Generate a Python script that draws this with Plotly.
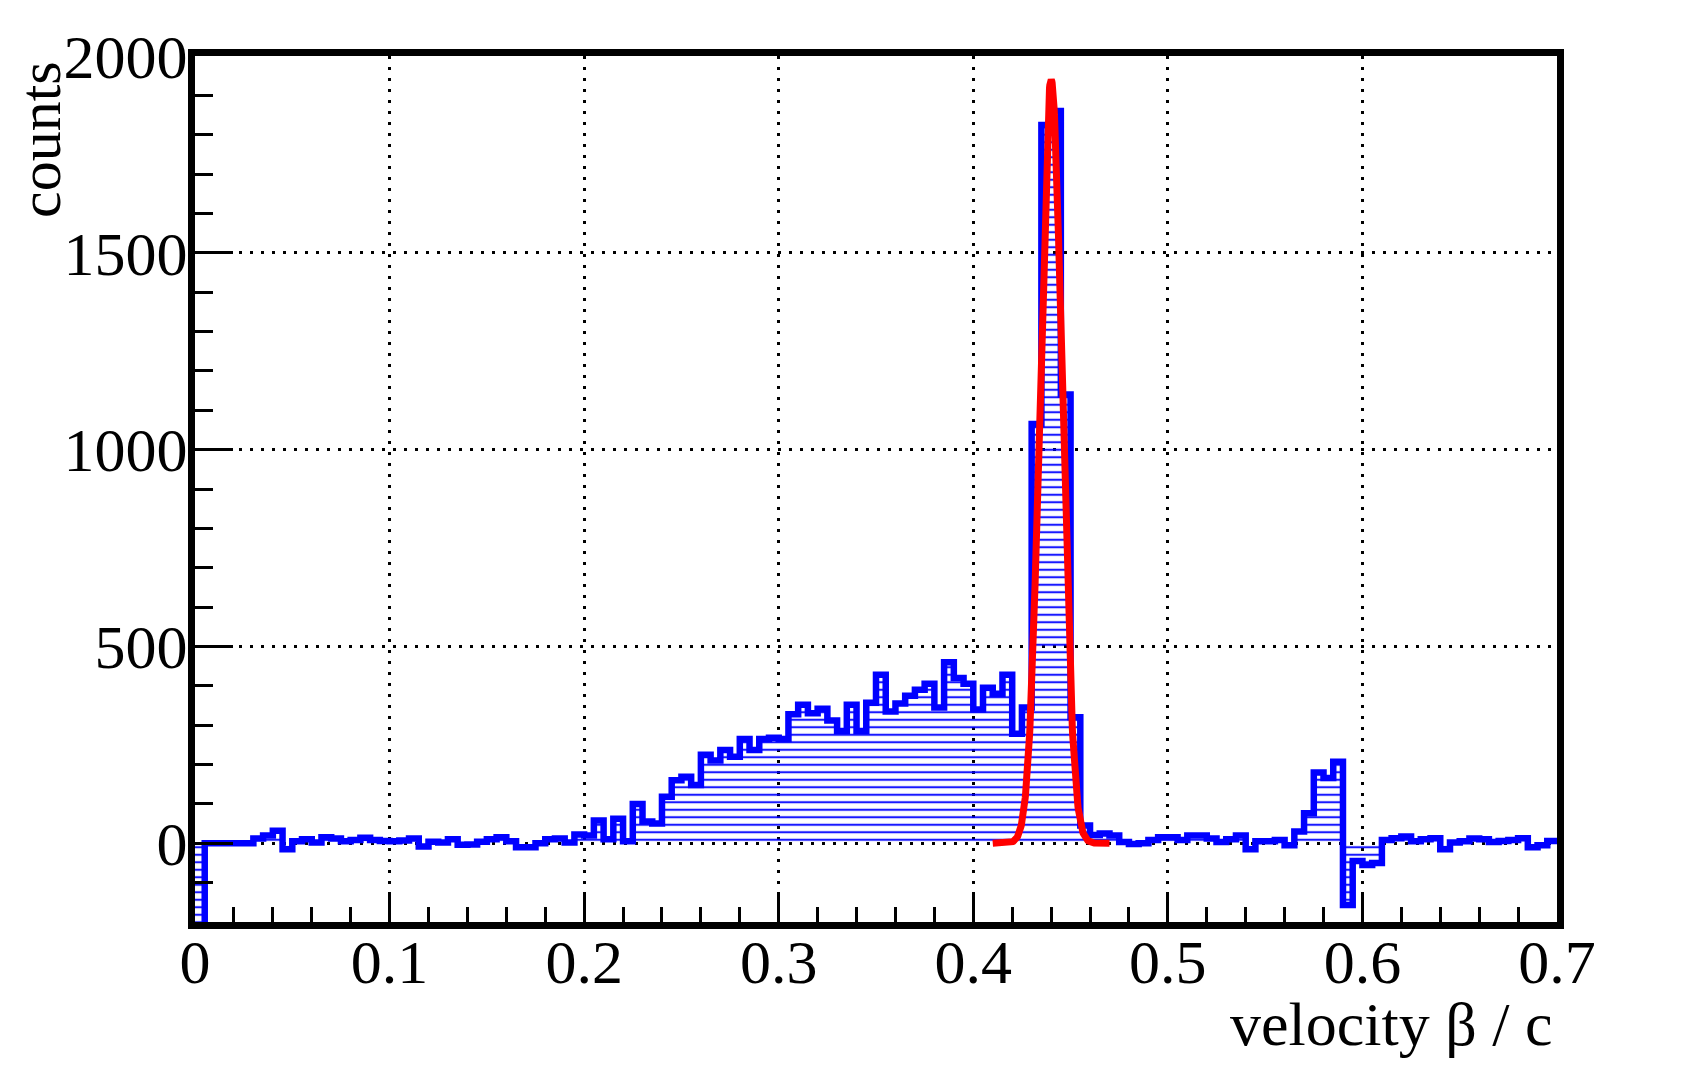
import numpy as np
import plotly.graph_objects as go

# ---------------- data ----------------
bin_width = 0.005
x_start = 0.0
counts = [
    -400, 0, 0, 0, 0, 0, 12, 20, 32, -15,
    5, 10, 2, 15, 12, 5, 8, 14, 8, 6,
    5, 7, 12, -8, 4, 2, 10, -4, -3, 4,
    10, 15, 5, -10, -10, 0, 10, 12, 2, 22,
    20, 58, 10, 62, 5, 100, 55, 50, 118, 160,
    169, 148, 225, 210, 237, 220, 265, 237, 265, 268,
    265, 328, 352, 330, 342, 312, 285, 352, 285, 357,
    428, 335, 355, 375, 390, 405, 345, 460, 420, 405,
    340, 395, 380, 428, 278, 345, 1065, 1825, 1860, 1140,
    320, 45, 21, 25, 20, 3, -2, 0, 8, 15,
    15, 8, 20, 20, 12, 3, 10, 20, -15, 5,
    5, 8, -5, 30, 76, 180, 166, 207, -157, -45,
    -55, -50, 8, 13, 17, 5, 10, 13, -15, 2,
    5, 12, 10, 3, 6, 8, 13, -10, -5, 6,
]

# Gaussian fit parameters
fit_amplitude = 1940.0
fit_mean = 0.4400
fit_sigma = 0.0056
fit_range = [0.41, 0.47]

x_tick_vals = [0, 0.1, 0.2, 0.3, 0.4, 0.5, 0.6, 0.7]
x_tick_text = ["0", "0.1", "0.2", "0.3", "0.4", "0.5", "0.6", "0.7"]
y_tick_vals = [0, 500, 1000, 1500, 2000]
y_tick_text = ["0", "500", "1000", "1500", "2000"]

x_title = "velocity β / c"
y_title = "counts"

# ---------------- build ----------------
edges = [x_start + i * bin_width for i in range(len(counts) + 1)]
y_step = counts + [counts[-1]]

fx = np.linspace(fit_range[0], fit_range[1], 400)
fy = fit_amplitude * np.exp(-0.5 * ((fx - fit_mean) / fit_sigma) ** 2)

FONT = "Liberation Serif, Times New Roman, serif"

fig = go.Figure()
fig.add_trace(go.Scatter(
    x=edges, y=y_step, mode="lines",
    line=dict(color="#0000ff", width=6.5, shape="hv"),
    fill="tozeroy",
    fillcolor="rgba(0,0,0,0)",
    fillpattern=dict(shape="-", fgcolor="#0000ff", bgcolor="rgba(255,255,255,0)",
                     size=7.5, solidity=0.28, fgopacity=0.9),
    hoverinfo="skip", showlegend=False,
))
fig.add_trace(go.Scatter(
    x=fx, y=fy, mode="lines",
    line=dict(color="#ff0000", width=7),
    hoverinfo="skip", showlegend=False,
))

axis_common = dict(
    showline=True, linecolor="black", linewidth=7, mirror=True,
    ticks="inside", tickcolor="black", tickwidth=3,
    showgrid=True, gridcolor="black", gridwidth=3, griddash="3px,8px",
    zeroline=False,
    tickfont=dict(family=FONT, size=62, color="black"),
)

fig.update_xaxes(
    range=[0, 0.7], tickmode="array", tickvals=x_tick_vals, ticktext=x_tick_text,
    ticklen=30, ticklabelstandoff=-20,
    minor=dict(dtick=0.02, tick0=0, ticks="inside", ticklen=15, tickwidth=3,
               tickcolor="black", showgrid=False),
    **axis_common,
)
fig.update_yaxes(
    range=[-200, 2000], tickmode="array", tickvals=y_tick_vals, ticktext=y_tick_text,
    ticklen=38, ticklabelstandoff=-12,
    minor=dict(dtick=100, tick0=0, ticks="inside", ticklen=18, tickwidth=3,
               tickcolor="black", showgrid=False),
    **axis_common,
)

fig.update_layout(
    width=1686, height=1064,
    margin=dict(l=187, r=137, t=48, b=150),
    paper_bgcolor="white", plot_bgcolor="white",
    font=dict(family=FONT, color="black"),
    annotations=[
        dict(text=x_title, xref="paper", yref="paper", x=0.9985, y=-0.118,
             xanchor="right", yanchor="middle", showarrow=False,
             font=dict(family=FONT, size=62, color="black")),
        dict(text=y_title, xref="paper", yref="paper", x=-0.1138, y=0.996,
             xanchor="center", yanchor="top", textangle=-90, showarrow=False,
             font=dict(family=FONT, size=60, color="black")),
    ],
)

fig.write_html("out.html")
